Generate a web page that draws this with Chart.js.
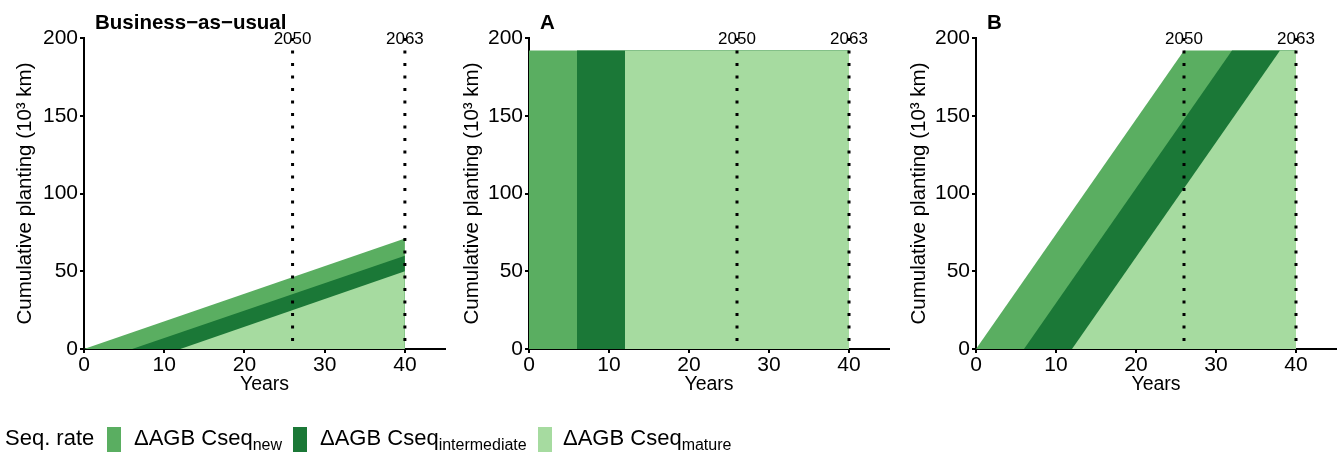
<!DOCTYPE html>
<html>
<head>
<meta charset="utf-8">
<script src="https://cdn.jsdelivr.net/npm/chart.js@4.4.1/dist/chart.umd.min.js"></script>
<style>
  body { margin: 0; background: #fff; width: 1341px; height: 453px; overflow: hidden; position: relative; font-family: "Liberation Sans", Arial, sans-serif; }
  canvas { position: absolute; top: 0; }
  #legend { position: absolute; left: 0; top: 0; width: 1341px; height: 453px; color: #000; font-size: 22px; }
  #legend span { position: absolute; white-space: nowrap; }
  #legend .box { width: 14px; height: 25px; top: 427px; }
  #legend .txt { top: 425px; }
  #legend sub { font-size: 16px; vertical-align: -5px; line-height: 0; }
</style>
</head>
<body>
<canvas id="bau" width="447" height="400" style="left:0px"></canvas>
<canvas id="panelA" width="447" height="400" style="left:447px"></canvas>
<canvas id="panelB" width="447" height="400" style="left:894px"></canvas>
<div id="legend"></div>

<script>
// data (x in years, y in 10^3 km)
const panelTitles = ['Business\u2212as\u2212usual', 'A', 'B'];
const xTicks = [0, 10, 20, 30, 40];
const yTicks = [0, 50, 100, 150, 200];
const markerYears = [26, 40];
const markerLabels = ['2050', '2063'];
const seqNames = ['new', 'intermediate', 'mature'];
const seqColors = ['#5aae61', '#1b7837', '#a6dba0'];

// business as usual
const bauNewX = [0, 40];
const bauNewY = [0, 71];
const bauIntX = [6, 40];
const bauIntY = [0, 60];
const bauMatX = [12, 40];
const bauMatY = [0, 50];

// scenario A
const aNewX = [0, 40];
const aNewY = [192, 192];
const aIntX = [6, 40];
const aIntY = [192, 192];
const aMatX = [12, 40];
const aMatY = [192, 192];

// scenario B
const bNewX = [0, 26, 40];
const bNewY = [0, 192, 192];
const bIntX = [6, 32, 40];
const bIntY = [0, 192, 192];
const bMatX = [12, 38, 40];
const bMatY = [0, 192, 192];

const FONT = '"Liberation Sans", Arial, sans-serif';

function pts(xs, ys) {
  return xs.map(function(x, i) { return { x: x, y: ys[i] }; });
}

function area(xs, ys, color) {
  return {
    data: pts(xs, ys),
    backgroundColor: color,
    borderWidth: 0,
    borderColor: color,
    pointRadius: 0,
    fill: 'origin',
    tension: 0
  };
}

function marker(year) {
  return {
    data: [{ x: year, y: 200 }, { x: year, y: 0 }],
    borderColor: '#000',
    borderWidth: 3,
    borderDash: [3, 9.5],
    borderCapStyle: 'butt',
    pointRadius: 0,
    fill: false
  };
}

const panelText = {
  id: 'panelText',
  afterDraw: function(chart) {
    const c = chart.ctx;
    const xs = chart.scales.x;
    const area = chart.chartArea;
    c.save();
    c.fillStyle = '#000';
    c.font = 'bold 20.5px ' + FONT;
    c.textAlign = 'left';
    c.textBaseline = 'alphabetic';
    c.fillText(chart.options.plugins.panelText.title, area.left + 11, 29);
    c.font = '17px ' + FONT;
    c.textAlign = 'center';
    markerYears.forEach(function(yr, i) {
      c.fillText(markerLabels[i], xs.getPixelForValue(yr), 44);
    });
    c.restore();
  }
};

function makeChart(id, title, newX, newY, intX, intY, matX, matY, yWidth, padRight) {
  new Chart(document.getElementById(id), {
    type: 'line',
    data: {
      datasets: [
        marker(markerYears[0]),
        marker(markerYears[1]),
        area(matX, matY, seqColors[2]),
        area(intX, intY, seqColors[1]),
        area(newX, newY, seqColors[0])
      ]
    },
    plugins: [panelText],
    options: {
      responsive: false,
      animation: false,
      layout: { padding: { left: 0, right: padRight, top: 38, bottom: 0 } },
      plugins: {
        legend: { display: false },
        tooltip: { enabled: false },
        panelText: { title: title }
      },
      scales: {
        x: {
          type: 'linear',
          min: 0,
          max: 45,
          afterBuildTicks: function(s) { s.ticks = xTicks.map(function(v) { return { value: v }; }); },
          afterFit: function(s) { s.height = 51; },
          border: { display: true, color: '#000', width: 2 },
          grid: { display: true, drawOnChartArea: false, drawTicks: true, tickLength: 4, color: '#000', lineWidth: 2 },
          ticks: { color: '#000', padding: 0, maxRotation: 0, font: { family: FONT, size: 21 } },
          title: { display: true, text: 'Years', color: '#000', padding: { top: 0, bottom: 4 }, font: { family: FONT, size: 19.5 } }
        },
        y: {
          min: 0,
          max: 200,
          afterBuildTicks: function(s) { s.ticks = yTicks.map(function(v) { return { value: v }; }); },
          afterFit: function(s) { s.width = yWidth; },
          border: { display: true, color: '#000', width: 2 },
          grid: { display: true, drawOnChartArea: false, drawTicks: true, tickLength: 4, color: '#000', lineWidth: 2 },
          ticks: { color: '#000', padding: 2, font: { family: FONT, size: 21 } },
          title: { display: true, text: 'Cumulative planting (10\u00b3 km)', color: '#000', padding: { top: 13, bottom: 0 }, font: { family: FONT, size: 20.5 } }
        }
      }
    }
  });
}

makeChart('bau', panelTitles[0], bauNewX, bauNewY, bauIntX, bauIntY, bauMatX, bauMatY, 84, 2);
makeChart('panelA', panelTitles[1], aNewX, aNewY, aIntX, aIntY, aMatX, aMatY, 82, 5);
makeChart('panelB', panelTitles[2], bNewX, bNewY, bIntX, bIntY, bMatX, bMatY, 82, 5);

// legend
const legend = document.getElementById('legend');
const boxLeft = [107, 293, 538];
const txtLeft = [134, 320, 563];
let html = '<span class="txt" style="left:5px">Seq. rate</span>';
seqNames.forEach(function(n, i) {
  html += '<span class="box" style="left:' + boxLeft[i] + 'px;background:' + seqColors[i] + '"></span>';
  html += '<span class="txt" style="left:' + txtLeft[i] + 'px">\u0394AGB Cseq<sub>' + n + '</sub></span>';
});
legend.innerHTML = html;
</script>
</body>
</html>
